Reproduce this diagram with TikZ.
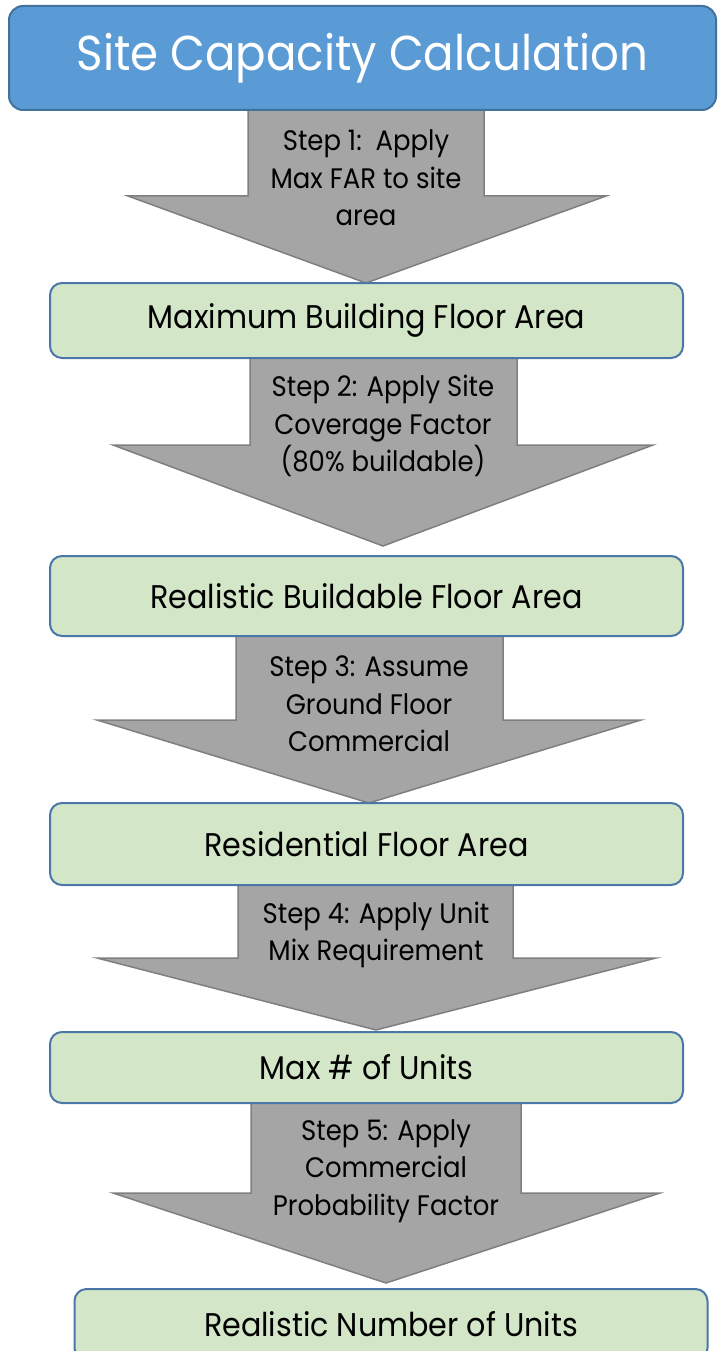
\documentclass[tikz,border=0pt]{standalone}
\usepackage{fontspec}
\setmainfont{Poppins}[FakeStretch=0.92]
\definecolor{titlefill}{HTML}{5B9BD5}
\definecolor{titleline}{HTML}{41719C}
\definecolor{boxfill}{HTML}{D3E6C8}
\definecolor{boxline}{HTML}{4A77A8}
\definecolor{arrowfill}{HTML}{A5A5A5}
\definecolor{arrowline}{HTML}{7F7F7F}
\begin{document}
\begin{tikzpicture}[x=1pt,y=-1pt,
  titlebox/.style={draw=titleline, line width=2pt, fill=titlefill, rounded corners=14pt,
    inner sep=0pt, text=white, font=\fontsize{49}{59}\selectfont},
  stagebox/.style={draw=boxline, line width=2pt, fill=boxfill, rounded corners=12pt,
    inner sep=0pt, minimum width=633pt, font=\fontsize{32.8}{39}\selectfont},
  bigarrow/.style={draw=arrowline, line width=1.5pt, fill=arrowfill, line join=miter},
  steptext/.style={align=center, inner sep=0pt, font=\fontsize{28.2}{37.5}\selectfont}]
\useasboundingbox (0,0) rectangle (717,1351);

% step arrows, drawn first so the stage boxes sit on top of them
\draw[bigarrow] (248,110) -- (484,110) -- (484,196) -- (606,196) -- (366,283)
  -- (128,196) -- (248,196) -- cycle;
\draw[bigarrow] (250,358) -- (517,358) -- (517,445) -- (653,445) -- (383,546)
  -- (113,445) -- (250,445) -- cycle;
\draw[bigarrow] (236,636) -- (503,636) -- (503,720) -- (641,720) -- (369,803)
  -- (97,720) -- (236,720) -- cycle;
\draw[bigarrow] (238,885) -- (513,885) -- (513,958) -- (656,958) -- (376,1030)
  -- (97,958) -- (238,958) -- cycle;
\draw[bigarrow] (251,1103) -- (521,1103) -- (521,1193) -- (660,1193) -- (386,1283)
  -- (113,1193) -- (251,1193) -- cycle;

% step labels
\node[steptext] (s1) at (366,178) {Step 1:\ \ Apply\\Max FAR to site\\area};
\node[steptext] (s2) at (383,426) {Step 2: Apply Site\\Coverage Factor\\(80\% buildable)};
\node[steptext] (s3) at (369,704) {Step 3: Assume\\Ground Floor\\Commercial};
\node[steptext] (s4) at (376,935) {Step 4: Apply Unit\\Mix Requirement};
\node[steptext] (s5) at (386,1171) {Step 5: Apply\\Commercial\\Probability Factor};

% title and stage boxes
\node[titlebox, minimum width=707pt, minimum height=104pt] (title) at (362.5,58)
  {Site Capacity Calculation};
\node[stagebox, minimum height=75pt] (b1) at (366.5,320.5) {Maximum Building Floor Area};
\node[stagebox, minimum height=80pt] (b2) at (366.5,596) {Realistic Buildable Floor Area};
\node[stagebox, minimum height=82pt] (b3) at (366.5,844) {Residential Floor Area};
\node[stagebox, minimum height=71pt] (b4) at (366.5,1067.5) {Max \# of Units};
\node[stagebox, minimum height=71pt] (b5) at (391,1324.5) {Realistic Number of Units};
\end{tikzpicture}
\end{document}
